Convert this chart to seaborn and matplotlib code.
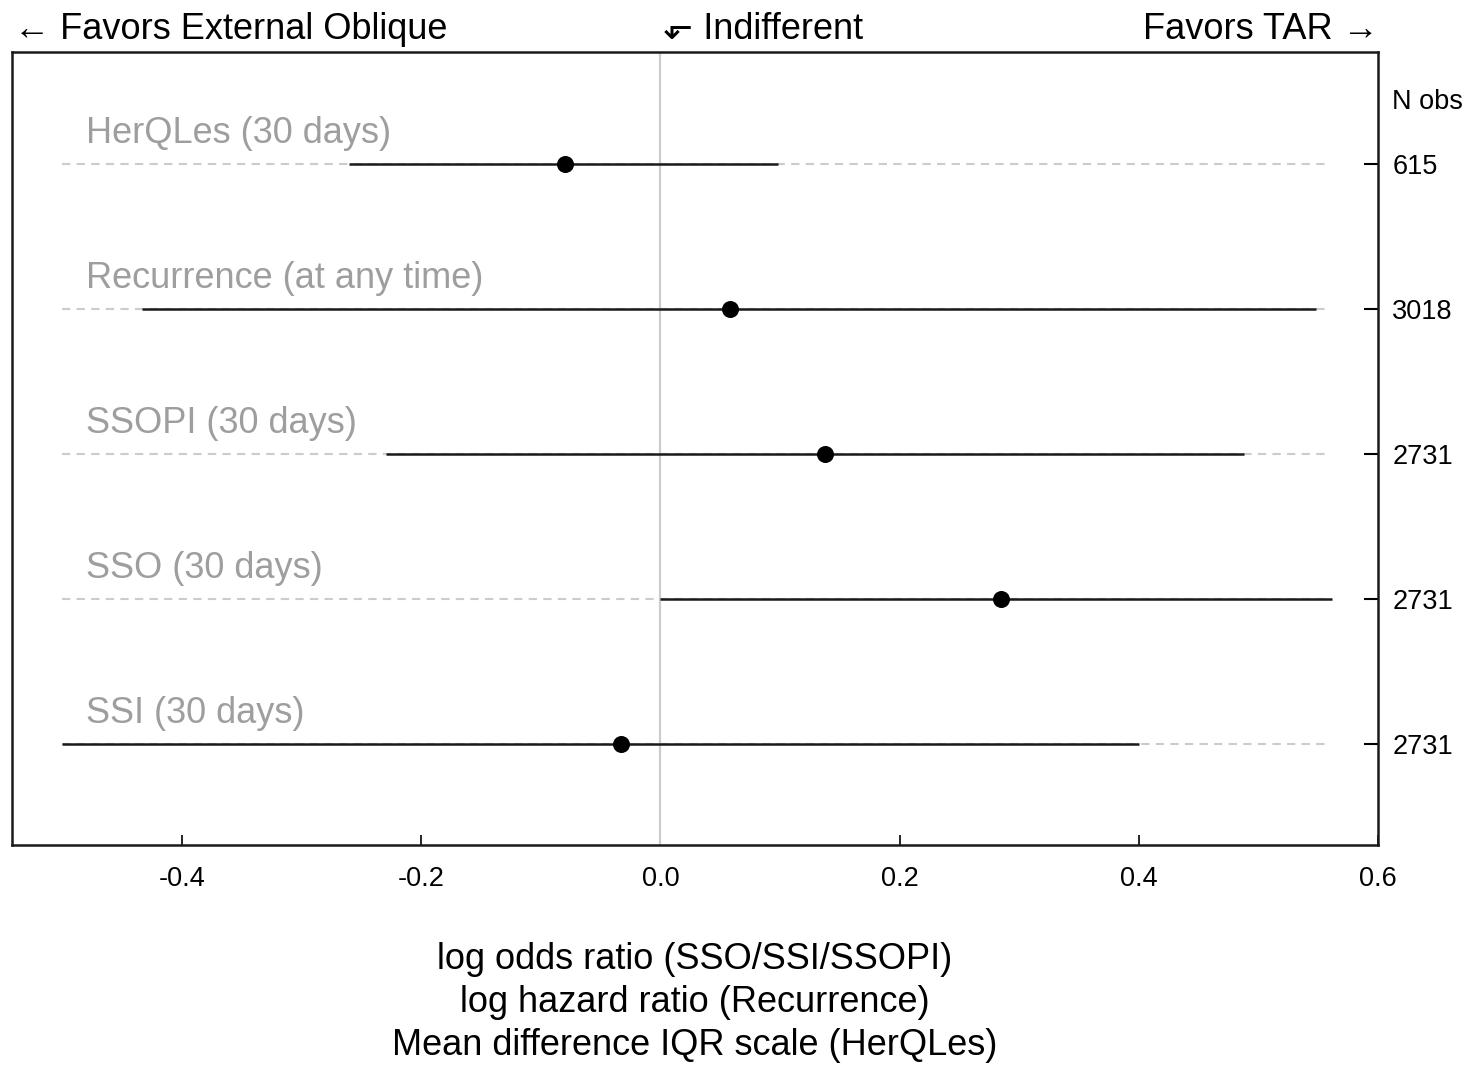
import matplotlib
matplotlib.use("Agg")
import matplotlib.pyplot as plt
import matplotlib.transforms as mtransforms
import numpy as np
import pandas as pd
import seaborn as sns

# data (top to bottom)
outcomes = [
    "HerQLes (30 days)",
    "Recurrence (at any time)",
    "SSOPI (30 days)",
    "SSO (30 days)",
    "SSI (30 days)",
]
estimate = [-0.080, 0.058, 0.138, 0.285, -0.033]
ci_low = [-0.260, -0.433, -0.229, 0.000, -0.500]
ci_high = [0.098, 0.548, 0.488, 0.561, 0.400]
n_obs = [615, 3018, 2731, 2731, 2731]

x_ticks = [-0.4, -0.2, 0.0, 0.2, 0.4, 0.6]
guide_range = (-0.5, 0.556)

df = pd.DataFrame(
    {
        "outcome": outcomes,
        "estimate": estimate,
        "lo": ci_low,
        "hi": ci_high,
        "n": n_obs,
    }
)
df["row"] = np.arange(len(df))

sns.set_theme(style="white")
plt.rcParams["font.family"] = ["Liberation Sans", "DejaVu Sans"]
plt.rcParams["text.color"] = "black"
plt.rcParams["axes.labelcolor"] = "black"
plt.rcParams["xtick.color"] = "black"
plt.rcParams["ytick.color"] = "black"

fig = plt.figure(figsize=(14.71, 10.68), dpi=100)
ax = fig.add_axes([0.008, 0.209, 0.929, 0.742])

# zero reference line
ax.axvline(0, color="#cccccc", lw=1.6, zorder=1)

# dashed guide lines behind each row
ax.hlines(df["row"], *guide_range, colors="#cccccc", linestyles=(0, (4, 3)),
          lw=1.5, zorder=1)

# confidence intervals
ax.hlines(df["row"], df["lo"], df["hi"], colors="#1a1a1a", lw=1.8, zorder=2)

sns.scatterplot(data=df, x="estimate", y="row", ax=ax, color="black",
                s=150, edgecolor="black", linewidth=0, zorder=3, legend=False)

for _, r in df.iterrows():
    ax.text(-0.48, r["row"] - 0.21, r["outcome"], color="#9e9e9e",
            fontsize=26, ha="left", va="center")

ax.set_xlim(-0.542, 0.6)
ax.set_ylim(len(df) - 1 + 0.697, -0.772)

ax.set_xticks(x_ticks)
ax.set_xticklabels([f"{t:.1f}" for t in x_ticks], fontsize=19.5)
ax.tick_params(axis="x", direction="in", length=7, width=1.2, pad=15,
               bottom=True)

ax.yaxis.tick_right()
ax.set_yticks(df["row"])
ax.set_yticklabels([str(n) for n in df["n"]], fontsize=19.5)
ax.tick_params(axis="y", direction="in", length=10, width=1.5, pad=10,
               right=True, left=False)
ax.set_ylabel("")

for sp in ax.spines.values():
    sp.set_visible(True)
    sp.set_color("#1a1a1a")
    sp.set_linewidth(1.8)

ax.text(1.010, 0.937, "N obs", transform=ax.transAxes, fontsize=19.5,
        ha="left", va="center")

ax.set_xlabel("log odds ratio (SSO/SSI/SSOPI)\nlog hazard ratio (Recurrence)\n"
              "Mean difference IQR scale (HerQLes)", fontsize=26, labelpad=36,
              linespacing=1.3)

top = mtransforms.blended_transform_factory(ax.transData, ax.transAxes)
ax.text(0.0015, 1.029, "\u2190 Favors External Oblique", transform=ax.transAxes,
        fontsize=26, ha="left", va="center")
ax.text(0.002, 1.029, "\u2B10 Indifferent", transform=top,
        fontsize=26, ha="left", va="center")
ax.text(1.0, 1.029, "Favors TAR \u2192", transform=ax.transAxes,
        fontsize=26, ha="right", va="center")

fig.savefig("out.png", dpi=100)
